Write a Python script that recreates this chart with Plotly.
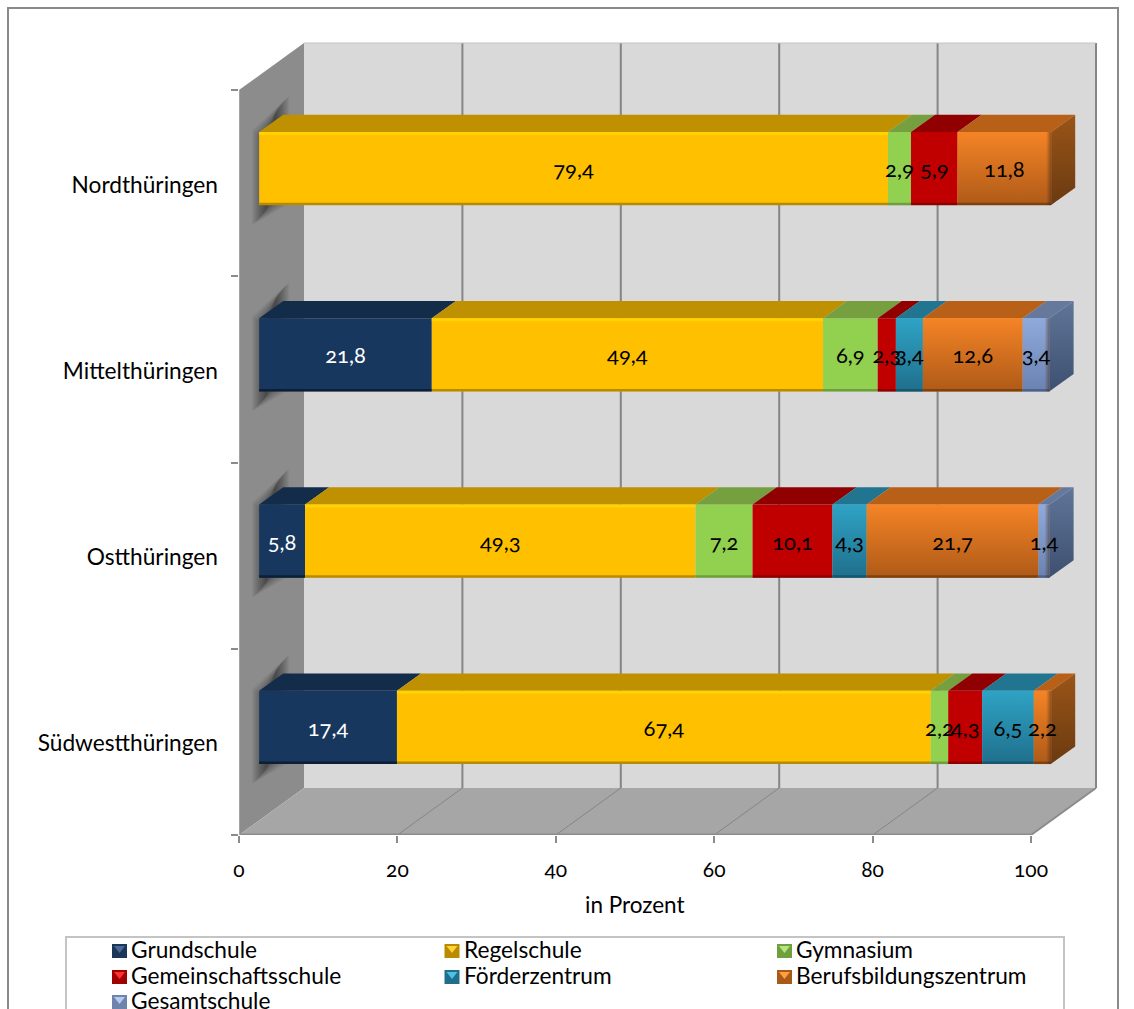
import plotly.graph_objects as go

# Regions, listed from the bottom of the chart upwards
regions = ["Südwestthüringen", "Ostthüringen", "Mittelthüringen", "Nordthüringen"]

# Share per school type, in percent
grundschule = [17.4, 5.8, 21.8, None]
regelschule = [67.4, 49.3, 49.4, 79.4]
gymnasium = [2.2, 7.2, 6.9, 2.9]
gemeinschaftsschule = [4.3, 10.1, 2.3, 5.9]
foerderzentrum = [6.5, 4.3, 3.4, None]
berufsbildungszentrum = [2.2, 21.7, 12.6, 11.8]
gesamtschule = [None, 1.4, 3.4, None]

x_ticks = [0, 20, 40, 60, 80, 100]

W, H = 1134, 1009
FONT = "Lato"

series = [
    dict(name="Grundschule", v=grundschule, front="#17375E", top="#132C4A", hi=None, lo="#0C1F36",
         text="white", icon=("#1A3658", "#4A6A95")),
    dict(name="Regelschule", v=regelschule, front="#FFC000", top="#BF9000", hi="#FFD200", lo="#B88A00",
         text="black", icon=("#B98B00", "#FFD43A")),
    dict(name="Gymnasium", v=gymnasium, front="#92D050", top="#76A040", hi=None, lo="#6F9E3E",
         text="black", icon=("#6FA03C", "#B4E582")),
    dict(name="Gemeinschaftsschule", v=gemeinschaftsschule, front="#C00000", top="#900000", hi=None, lo="#8C0000",
         text="black", icon=("#A00000", "#FF3030")),
    dict(name="Förderzentrum", v=foerderzentrum, front="#2E9FC0", grad=("#2FA3C5", "#1F6F8C"), top="#217590",
         hi=None, lo="#17566C", text="black", icon=("#1F6F8C", "#4FC0E0")),
    dict(name="Berufsbildungszentrum", v=berufsbildungszentrum, front="#F58220", grad=("#F58426", "#AE5A18"),
         top="#B86018", side=("#9A5518", "#6B3A10"), hi=None, lo="#7F420F", text="black",
         icon=("#A95A18", "#FFA040")),
    dict(name="Gesamtschule", v=gesamtschule, front="#8EA9DB", grad=("#8FAADC", "#6A82B0"), top="#66799C",
         side=("#5F7599", "#3E5070"), hi=None, lo="#4E6288", text="black", icon=("#6E84AC", "#B6CBF0")),
]

# Axis scale and oblique projection of the box
PX_PER_UNIT = 7.92
PX_PER_CAT = 186.25
LEFT, RIGHT, BOTTOM, TOP = 239, 1097, 835, 42
DX = 65 / PX_PER_UNIT
DY = 47 / PX_PER_CAT
FRONT, BACK = 0.31, 0.68
HALF = 0.196
X_MAX = (RIGHT - LEFT) / PX_PER_UNIT
Y_MAX = (BOTTOM - TOP) / PX_PER_CAT
ux = 1 / PX_PER_UNIT
uy = 1 / PX_PER_CAT


def proj(v, c, d):
    return v + d * DX, c + d * DY


def path(points):
    return "M" + "L".join(f"{x:.4f},{y:.4f}" for x, y in points) + "Z"


def px(x):
    return x / W


def py(y):
    return 1 - y / H


shapes = []


def area(points, color):
    shapes.append(dict(type="path", path=path(points), fillcolor=color, line_width=0, layer="below",
                       xref="x", yref="y"))


def rule(a, b, color, width):
    shapes.append(dict(type="line", x0=a[0], y0=a[1], x1=b[0], y1=b[1], layer="below", xref="x", yref="y",
                       line=dict(color=color, width=width)))


# Walls and floor of the box
area([proj(0, 0, 1), proj(100, 0, 1), proj(100, 4, 1), proj(0, 4, 1)], "#D9D9D9")
area([proj(0, 0, 0), proj(0, 0, 1), proj(0, 4, 1), proj(0, 4, 0)], "#8C8C8C")
area([proj(0, 0, 0), proj(100, 0, 0), proj(100, 0, 1), proj(0, 0, 1)], "#A6A6A6")
for t in x_ticks[1:]:
    rule(proj(t, 0, 1), proj(t, 4, 1), "#858585", 2)
    if t < 100:
        rule(proj(t, 0, 0), proj(t, 0, 1), "#858585", 1)
rule(proj(0, 4, 1), proj(100, 4, 1), "#C4C4C4", 1)
rule(proj(0, 0, 0), proj(100, 0, 0), "#8C8C8C", 3)
rule(proj(100, 0, 0), proj(100, 0, 1), "#8C8C8C", 2)
rule(proj(0, 0, 0), proj(0, 4, 0), "#A3A3A3", 2)

# Soft shadow that each bar throws on the left wall, narrower where it is darker
for i in range(len(regions)):
    c = i + 0.5
    fx, fy = proj(0, c, FRONT)
    for k in range(14):
        inset = k * 1.0
        area([
            (fx - (7 - inset) * ux, fy + HALF + (2 - inset) * uy),
            (fx + (30 - inset) * ux, fy + HALF + (36 - inset) * uy),
            (fx + (30 - inset) * ux, fy - HALF + (1 + inset) * uy),
            (fx - (7 - inset) * ux, fy - HALF - (20 - inset) * uy),
        ], "rgba(0,0,0,0.04)")

fig = go.Figure()
tops = [0.0] * len(regions)
overlays = []
labels_x, labels_y, labels_t, labels_c = [], [], [], []
last_end = {}

for s in series:
    ys, bases, vals = [], [], []
    segs = []
    for i, v in enumerate(s["v"]):
        if v is None:
            continue
        start = tops[i]
        tops[i] += v
        b, y = proj(start, i + 0.5, FRONT)
        ys.append(y)
        bases.append(b)
        vals.append(v)
        segs.append((i, start, v))
        labels_x.append(b + v / 2)
        labels_y.append(y - 3 * uy)
        labels_t.append(f"{v:.1f}".replace(".", ","))
        labels_c.append(s["text"])
        last_end[i] = s
    fig.add_trace(go.Bar(y=ys, x=vals, base=bases, orientation="h", width=2 * HALF, name=s["name"],
                         marker=dict(color=s["front"], line_width=0), showlegend=False,
                         hovertemplate="%{x}<extra>" + s["name"] + "</extra>"))
    overlays.append((s, segs))

# Top faces, shading and bevel strips above the bars
for s, segs in overlays:
    tx, ty = [], []
    for i, start, v in segs:
        c = i + 0.5
        a = proj(start, c + HALF, FRONT)
        b = proj(start + v, c + HALF, FRONT)
        d = proj(start + v, c + HALF, BACK)
        e = proj(start, c + HALF, BACK)
        tx += [a[0], b[0], d[0], e[0], a[0], None]
        ty += [a[1], b[1], d[1], e[1], a[1], None]
    fig.add_trace(go.Scatter(x=tx, y=ty, mode="lines", fill="toself", fillcolor=s["top"], line_width=0,
                             hoverinfo="skip", showlegend=False))
    if "grad" in s:
        for i, start, v in segs:
            c = i + 0.5
            a = proj(start, c - HALF, FRONT)
            b = proj(start + v, c + HALF, FRONT)
            fig.add_trace(go.Scatter(
                x=[a[0], b[0], b[0], a[0], a[0]], y=[a[1], a[1], b[1], b[1], a[1]],
                mode="lines", line_width=0, fill="toself", hoverinfo="skip", showlegend=False,
                fillgradient=dict(type="vertical", colorscale=[[0, s["grad"][1]], [1, s["grad"][0]]])))
    lx, ly = [], []
    for i, start, v in segs:
        a = proj(start, i + 0.5 - HALF + 1 * uy, FRONT)
        lx += [a[0], a[0] + v, None]
        ly += [a[1], a[1], None]
    fig.add_trace(go.Scatter(x=lx, y=ly, mode="lines", line=dict(color=s["lo"], width=2.5),
                             hoverinfo="skip", showlegend=False))
    if s["hi"]:
        hx, hy = [], []
        for i, start, v in segs:
            a = proj(start, i + 0.5 + HALF - 1.5 * uy, FRONT)
            hx += [a[0], a[0] + v, None]
            hy += [a[1], a[1], None]
        fig.add_trace(go.Scatter(x=hx, y=hy, mode="lines", line=dict(color=s["hi"], width=3),
                                 hoverinfo="skip", showlegend=False))

# End caps of the stacks, with a dark rim on the front face
for i, s in last_end.items():
    c = i + 0.5
    end = tops[i]
    a = proj(end, c + HALF, FRONT)
    b = proj(end, c + HALF, BACK)
    d = proj(end, c - HALF, BACK)
    e = proj(end, c - HALF, FRONT)
    fig.add_trace(go.Scatter(
        x=[a[0], b[0], d[0], e[0], a[0]], y=[a[1], b[1], d[1], e[1], a[1]],
        mode="lines", line_width=0, fill="toself", hoverinfo="skip", showlegend=False,
        fillgradient=dict(type="vertical", colorscale=[[0, s["side"][1]], [1, s["side"][0]]])))
    rim = e[0] - 5 * ux
    fig.add_trace(go.Scatter(
        x=[rim, e[0], e[0], rim, rim], y=[e[1], e[1], a[1], a[1], e[1]],
        mode="lines", line_width=0, fill="toself", hoverinfo="skip", showlegend=False,
        fillgradient=dict(type="horizontal", colorscale=[[0, "rgba(70,40,20,0)"], [1, "rgba(70,40,20,0.55)"]])))

# Value labels
fig.add_trace(go.Scatter(x=labels_x, y=labels_y, mode="text", text=labels_t, textposition="middle center",
                         textfont=dict(family=FONT, size=22, color=labels_c),
                         hoverinfo="skip", showlegend=False))

# Outer frame and legend box
shapes.append(dict(type="rect", xref="paper", yref="paper", x0=px(8), x1=px(1118), y0=py(1040), y1=py(8),
                   line=dict(color="#8A8A8A", width=2), layer="below"))
shapes.append(dict(type="rect", xref="paper", yref="paper", x0=px(66), x1=px(1064), y0=py(1040), y1=py(937),
                   line=dict(color="#C4C4C4", width=2), layer="below"))

annotations = [dict(text="in Prozent", xref="paper", yref="paper", x=px(635), y=py(904), showarrow=False,
                    xanchor="center", yanchor="middle", font=dict(family=FONT, size=22.5, color="black"))]

# Legend in three columns
COLS = [112, 444.5, 777]
ROWS = [944, 970, 995]
for n, s in enumerate(series):
    x0 = COLS[n % 3]
    y0 = ROWS[n // 3]
    dark, light = s["icon"]
    shapes.append(dict(type="rect", xref="paper", yref="paper", x0=px(x0), x1=px(x0 + 15), y0=py(y0 + 14),
                       y1=py(y0), fillcolor=dark, line_width=0))
    shapes.append(dict(type="path", xref="paper", yref="paper", fillcolor=light, line_width=0,
                       path=path([(px(x0 + 2), py(y0 + 2)), (px(x0 + 13), py(y0 + 2)), (px(x0 + 7.5), py(y0 + 9))])))
    annotations.append(dict(text=s["name"], xref="paper", yref="paper", x=px(x0 + 17), y=py(y0 + 5.5), showarrow=False,
                            xanchor="left", yanchor="middle", font=dict(family=FONT, size=22.7, color="black")))

fig.update_layout(
    width=W, height=H, margin=dict(l=0, r=0, t=0, b=0, autoexpand=False), paper_bgcolor="white",
    plot_bgcolor="rgba(0,0,0,0)",
    barmode="overlay", showlegend=False, shapes=shapes, annotations=annotations,
    xaxis=dict(domain=[LEFT / W, RIGHT / W], range=[0, X_MAX], tickvals=x_ticks, ticks="outside", ticklen=7,
               tickwidth=2, tickcolor="#8C8C8C", showgrid=False, zeroline=False, showline=False, automargin=False,
               ticklabelstandoff=9, tickfont=dict(family=FONT, size=21, color="black")),
    yaxis=dict(domain=[1 - BOTTOM / H, 1 - TOP / H], range=[0, Y_MAX], tickmode="array",
               tickvals=[i + 0.5 - 1.5 * uy for i in range(len(regions))], ticktext=regions, ticks="", showgrid=False,
               zeroline=False, showline=False, automargin=False, ticklabelstandoff=20,
               minor=dict(tickmode="array", tickvals=list(range(len(regions) + 1)), ticks="outside", ticklen=7,
                          tickwidth=2, tickcolor="#8C8C8C", showgrid=False),
               tickfont=dict(family=FONT, size=22.7, color="black")),
)

# Old-style figures for all chart text
style_js = """
var st = document.createElement('style');
st.textContent = 'svg text{font-feature-settings:"onum" 1;font-variant-numeric:oldstyle-nums;}';
document.head.appendChild(st);
"""
fig.write_html("out.html", post_script=style_js)
